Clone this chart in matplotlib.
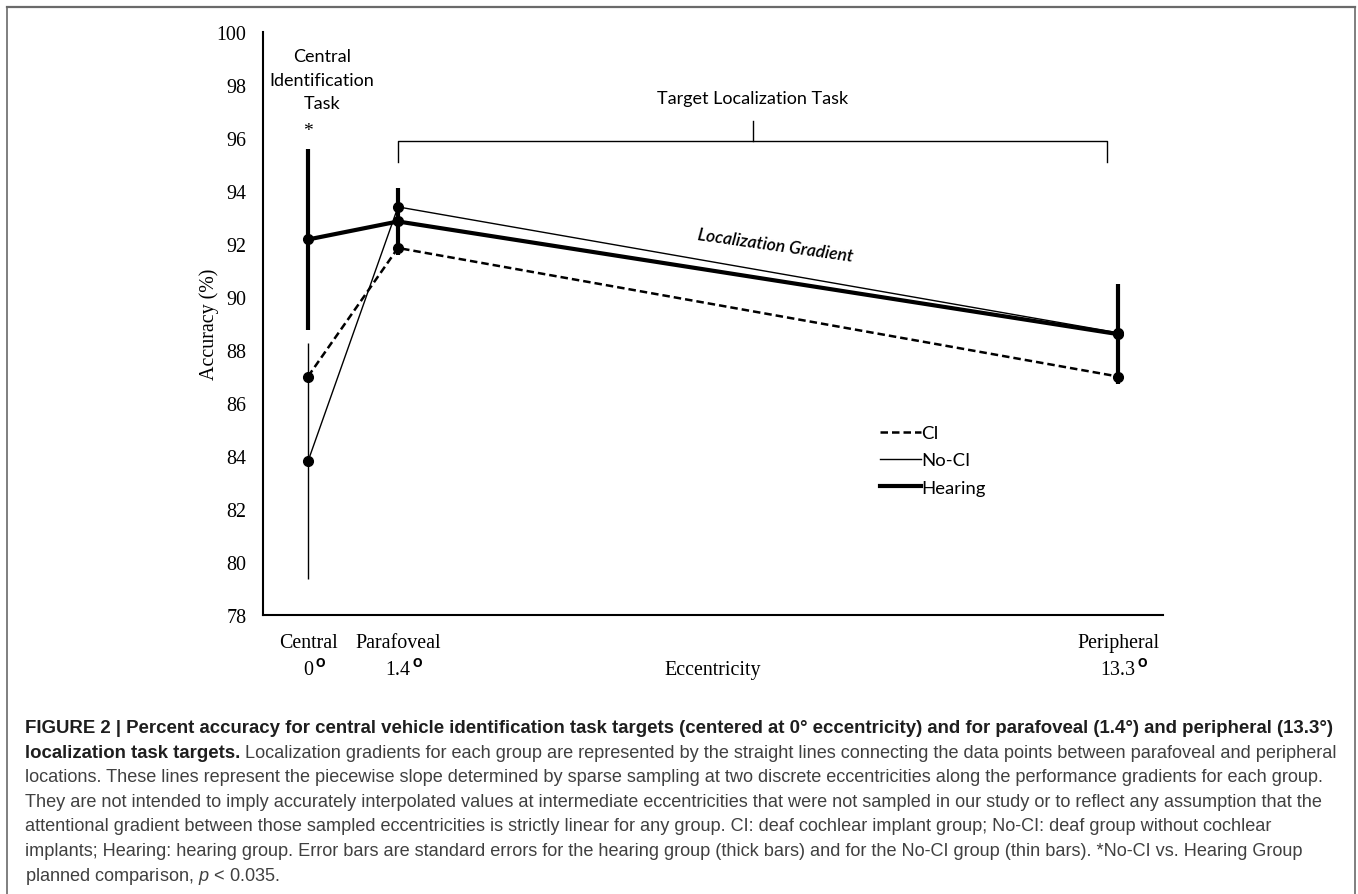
import matplotlib
matplotlib.use("Agg")
import matplotlib.pyplot as plt
from matplotlib.lines import Line2D

plt.rcParams['mathtext.fontset'] = 'custom'
plt.rcParams['mathtext.it'] = 'Liberation Sans:italic'

# ---- data ----
locations = ['Central', 'Parafoveal', 'Peripheral']
eccentricity = ['0', '1.4', '13.3']
x_pos = [0.5, 1.5, 9.5]          # category slots on the axis

ci = [87.0, 91.85, 87.0]
no_ci = [83.8, 93.4, 88.65]
hearing = [92.17, 92.85, 88.6]

hearing_se = [3.43, 1.25, 1.9]
no_ci_se = [4.45, 0.6, 1.4]

serif = 'Liberation Serif'
calibri = 'Lato'
caption_font = 'Liberation Sans'

fig = plt.figure(figsize=(13.58, 8.95), dpi=100)
ax = fig.add_axes([263/1358, 1-616/895, 900/1358, 583/895])

# series lines
ax.plot(x_pos, ci, color='black', lw=1.8, ls=(0, (3, 1.6)), marker='o', ms=7, zorder=3)
ax.plot(x_pos, no_ci, color='black', lw=1.0, marker='o', ms=7, zorder=3)
ax.plot(x_pos, hearing, color='black', lw=3.0, marker='o', ms=7, zorder=4)

# error bars: thick for hearing, thin for No-CI
ax.errorbar(x_pos, hearing, yerr=hearing_se, fmt='none', ecolor='black', elinewidth=3.0, capsize=0, zorder=4)
ax.errorbar(x_pos, no_ci, yerr=no_ci_se, fmt='none', ecolor='black', elinewidth=1.0, capsize=0, zorder=3)

ax.set_xlim(0, 10)
ax.set_ylim(78, 100)
ax.set_yticks(range(78, 101, 2))
ax.set_xticks(x_pos)
ax.set_xticklabels(locations)
ax.tick_params(length=0, labelsize=14.4)
ax.tick_params(axis='y', pad=12)
ax.tick_params(axis='x', pad=13)
for lab in ax.get_xticklabels() + ax.get_yticklabels():
    lab.set_fontfamily(serif)

for s in ['top', 'right']:
    ax.spines[s].set_visible(False)
for s in ['left', 'bottom']:
    ax.spines[s].set_linewidth(1.5)

# eccentricity values under the location names, with raised "o" degree mark
for x, e in zip(x_pos, eccentricity):
    t = ax.text(x, -0.101, e, transform=ax.get_xaxis_transform(),
                ha='center', va='baseline', fontsize=14.4, family=serif)
    ax.annotate('o', xy=(1, 0), xycoords=t, xytext=(1.5, 7), textcoords='offset points',
                ha='left', va='bottom', fontsize=12, family=calibri, weight='bold',
                annotation_clip=False)

ax.set_xlabel('Eccentricity', fontsize=14.4, family=serif, va='baseline')
ax.xaxis.set_label_coords(0.5, -0.101)
ax.set_ylabel('Accuracy (%)', fontsize=14.4, family=serif, va='center')
ax.yaxis.set_label_coords(-0.06, 0.5)

# task annotations
ax.text(0.656, 98.2, 'Central\nIdentification\nTask', ha='center', va='center',
        fontsize=13, family=calibri, linespacing=1.6)
ax.text(x_pos[0], 96.3, '*', ha='center', va='center', fontsize=14, family=serif)

br_left = x_pos[1]
br_right = x_pos[2] - 0.12
br_mid = (br_left + br_right) / 2
ax.plot([br_left, br_left, br_right, br_right], [95.1, 95.9, 95.9, 95.1], color='black', lw=1.0)
ax.plot([br_mid, br_mid], [95.9, 96.65], color='black', lw=1.0)
ax.text(br_mid, 97.5, 'Target Localization Task', ha='center', va='center',
        fontsize=13, family=calibri)

ax.text(5.69, 91.97, 'Localization Gradient', ha='center', va='center', rotation=-8,
        fontsize=12.6, family=calibri, style='italic', weight='semibold')

# legend (lines only, as in the original)
handles = [Line2D([], [], color='black', lw=1.8, ls=(0, (3, 1.6))),
           Line2D([], [], color='black', lw=1.0),
           Line2D([], [], color='black', lw=3.0)]
ax.legend(handles, ['CI', 'No-CI', 'Hearing'], loc='upper left',
          bbox_to_anchor=(880/1358, 1-426/895), bbox_transform=fig.transFigure,
          frameon=False, handlelength=2.2, handletextpad=0.05, borderpad=0,
          borderaxespad=0, labelspacing=0.62, prop={'family': calibri, 'size': 13.3})

# ---- caption ----
cap_x = 25/1358
cap_y0 = 733
cap_dy = 24.6
bold_size = 13.4
cap_size = 13.1
bold_col = '#1e1e1e'
reg_col = '#404040'

def fy(px):
    return 1 - px/895

fig.text(cap_x, fy(cap_y0), 'FIGURE 2 | Percent accuracy for central vehicle identification task targets '
         '(centered at 0° eccentricity) and for parafoveal (1.4°) and peripheral (13.3°)',
         fontsize=bold_size, family=caption_font, weight='bold', color=bold_col, va='baseline')
t_bold = fig.text(cap_x, fy(cap_y0 + cap_dy), 'localization task targets.',
                  fontsize=bold_size, family=caption_font, weight='bold', color=bold_col, va='baseline')
ax.annotate(' Localization gradients for each group are represented by the straight lines '
            'connecting the data points between parafoveal and peripheral',
            xy=(1, 0), xycoords=t_bold, ha='left', va='bottom', annotation_clip=False,
            fontsize=cap_size, family=caption_font, color=reg_col)

caption_rest = [
    'locations. These lines represent the piecewise slope determined by sparse sampling at two discrete '
    'eccentricities along the performance gradients for each group.',
    'They are not intended to imply accurately interpolated values at intermediate eccentricities that '
    'were not sampled in our study or to reflect any assumption that the',
    'attentional gradient between those sampled eccentricities is strictly linear for any group. '
    'CI: deaf cochlear implant group; No-CI: deaf group without cochlear',
    'implants; Hearing: hearing group. Error bars are standard errors for the hearing group (thick bars) '
    'and for the No-CI group (thin bars). *No-CI vs. Hearing Group',
    r'planned comparison, $p$ < 0.035.',
]
for i, line in enumerate(caption_rest):
    fig.text(cap_x, fy(cap_y0 + cap_dy*(i+2)), line, fontsize=cap_size, family=caption_font,
             color=reg_col, va='baseline')

# frame around figure panel
frame_col = '#6a6a6a'
fig.add_artist(Line2D([7/1358, 1355/1358], [fy(8), fy(8)], transform=fig.transFigure, color=frame_col, lw=1.6))
fig.add_artist(Line2D([7/1358, 7/1358], [fy(8), 0], transform=fig.transFigure, color=frame_col, lw=1.2))
fig.add_artist(Line2D([1355/1358, 1355/1358], [fy(8), 0], transform=fig.transFigure, color=frame_col, lw=1.2))

fig.savefig('out.png', dpi=100)
